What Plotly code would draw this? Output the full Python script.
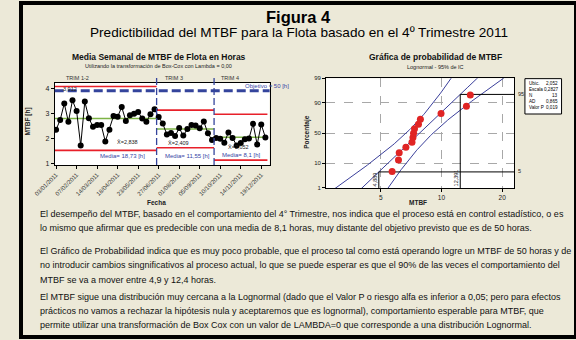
import math
import datetime as dt
from statistics import NormalDist
import plotly.graph_objects as go

W, H = 576, 340
FONT = "Liberation Sans, Arial, sans-serif"

# ---------------- data: weekly control chart (ln of weekly mean MTBF) ----------------
first_week = "2011-01-03"
ln_mtbf_trim12 = [2.354, 2.747, 3.402, 2.668, 3.532, 3.100, 1.726, 3.481, 2.813, 2.472,
                  2.539, 2.539, 1.883, 2.354, 2.904, 2.876, 3.257, 2.707, 2.931, 2.994,
                  3.061, 2.798, 2.668, 2.970, 3.171]
ln_mtbf_trim3 = [2.864, 2.601, 2.166, 2.221, 2.099, 2.421, 2.119, 2.382, 2.543, 2.519,
                 2.413, 2.680, 2.209, 1.942]
ln_mtbf_trim4 = [2.021, 1.993, 1.836, 2.248, 2.028, 1.726, 1.824, 1.970, 2.001, 2.590,
                 1.766, 2.566, 2.048]
stage_labels = ["TRIM 1-2", "TRIM 3", "TRIM 4"]
stage_center = [2.800, 2.382, 2.052]
stage_ucl = [4.081, 3.139, 2.970]
stage_lcl = [1.530, 1.636, 1.139]
stage_center_text = ["X̄=2,838", "X̄=2,409", "X̄=2,052"]
stage_mean_text = ["Media= 18,73 [h]", "Media= 11,55 [h]", "Media= 8,1 [h]"]
objective_hours = 50
objective_text = "Objetivo = 50 [h]"
objective_value_text = "3,912"
left_yticks = [1, 2, 3, 4]

# ---------------- data: lognormal probability plot (TRIM 4) ----------------
prob_mtbf_hours = [5.69, 6.12, 6.17, 6.66, 7.14, 7.22, 7.27, 7.35, 7.69, 7.86, 9.95, 13.3, 13.9]
lognorm_loc = 2.052
lognorm_scale = 0.2827
ad_stat = "0,865"
p_value = "0,019"
ref_percents = [5, 95]
prob_yticks = [1, 10, 50, 90, 99]
prob_xticks = [5, 10, 20]

body_lines = [
    "El desempeño del MTBF, basado en el comportamiento del 4° Trimestre, nos indica que el proceso está en control estadístico, o es",
    "lo mismo que afirmar que es predecible con una media de 8,1 horas, muy distante del objetivo previsto que es de 50 horas.",
    "El Gráfico de Probabilidad indica que es muy poco probable, que el proceso tal como está operando logre un MTBF de 50 horas y de",
    "no introducir cambios singnificativos al proceso actual, lo que se puede esperar es que el 90% de las veces el comportamiento del",
    "MTBF se va a mover entre 4,9 y 12,4 horas.",
    "El MTBF sigue una distribución muy cercana a la Lognormal (dado que el Valor P o riesgo alfa es inferior a 0,05; pero para efectos",
    "prácticos no vamos a rechazar la hipótesis nula y aceptaremos que es lognormal), comportamiento esperable para MTBF, que",
    "permite utilizar una transformación de Box Cox con un valor de LAMBDA=0 que corresponde a una distribución Lognormal.",
]
body_y = [215, 229.5, 252.5, 267, 281.5, 299, 313.5, 328]

# ---------------- colours ----------------
BG = "#ECE9D8"
NAVY = "#34449C"
RED = "#E8202A"
GREEN = "#7DB346"
BLUE_TXT = "#3545A5"
LINE_BLUE = "#3A3F9A"


def px_x(x):
    return x / W


def px_y(y):
    return 1 - y / H


def ann(text, x, y, size, color="#000", bold=False, xanchor="center",
        yanchor="middle", angle=0):
    return dict(text=("<b>%s</b>" % text if bold else text), x=px_x(x), y=px_y(y),
                xref="paper", yref="paper", showarrow=False,
                font=dict(size=size, color=color, family=FONT),
                xanchor=xanchor, yanchor=yanchor, textangle=angle)


fig = go.Figure()

# ---------------- left chart ----------------
start = dt.date.fromisoformat(first_week)
stages = [ln_mtbf_trim12, ln_mtbf_trim3, ln_mtbf_trim4]
all_vals = ln_mtbf_trim12 + ln_mtbf_trim3 + ln_mtbf_trim4
dates = [start + dt.timedelta(days=7 * i) for i in range(len(all_vals))]
half_week = dt.timedelta(days=3.5)

idx = 0
stage_bounds = []
for s, vals in enumerate(stages):
    d0 = dt.datetime.combine(dates[idx], dt.time()) - half_week
    d1 = dt.datetime.combine(dates[idx + len(vals) - 1], dt.time()) + half_week
    stage_bounds.append((d0, d1))
    idx += len(vals)
    for yv, col in ((stage_ucl[s], RED), (stage_lcl[s], RED), (stage_center[s], GREEN)):
        fig.add_trace(go.Scatter(x=[d0, d1], y=[yv, yv], mode="lines",
                                 line=dict(color=col, width=1.6),
                                 xaxis="x", yaxis="y", hoverinfo="skip"))

fig.add_trace(go.Scatter(x=dates, y=all_vals, mode="lines+markers",
                         line=dict(color="#000", width=1),
                         marker=dict(color="#000", size=6),
                         xaxis="x", yaxis="y"))

obj_ln = math.log(objective_hours)
fig.add_shape(type="line", xref="x domain", yref="y", x0=0, x1=1, y0=obj_ln, y1=obj_ln,
              line=dict(color=NAVY, width=3, dash="9px,4px"))
for s in range(1, len(stages)):
    xb = stage_bounds[s][0]
    fig.add_shape(type="line", xref="x", yref="paper", x0=xb, x1=xb,
                  y0=px_y(165), y1=px_y(74), line=dict(color=NAVY, width=1.3, dash="7px,3px"))

left_dom_x = [px_x(35), px_x(258)]
left_dom_y = [px_y(165), px_y(81)]
ax_min = dt.datetime.combine(dates[0], dt.time()) - dt.timedelta(days=2.3)
ax_max = dt.datetime.combine(dates[-1], dt.time()) + dt.timedelta(days=7.2)

tick_dates = dates[::5]
fig.update_layout(
    xaxis=dict(domain=left_dom_x, type="date", range=[ax_min, ax_max],
               tickmode="array", tickvals=tick_dates,
               ticktext=[d.strftime("%d/%m/%Y") for d in tick_dates],
               tickangle=-45, ticks="outside", ticklen=3, tickcolor="#000",
               tickfont=dict(size=6, color="#333", family=FONT),
               showline=True, linecolor="#000", linewidth=1, mirror=True,
               showgrid=False, zeroline=False, anchor="y"),
    yaxis=dict(domain=left_dom_y, range=[0.941, 4.238], tickvals=left_yticks,
               ticks="outside", ticklen=3, tickcolor="#000",
               tickfont=dict(size=7, color="#222", family=FONT),
               showline=True, linecolor="#000", linewidth=1, mirror=True,
               showgrid=False, zeroline=False, anchor="x"),
)

# ---------------- right chart ----------------
nd = NormalDist()
n = len(prob_mtbf_hours)
pts_sorted = sorted(prob_mtbf_hours)
ranks = [(i + 1 - 0.3) / (n + 0.4) for i in range(n)]
z_pts = [nd.inv_cdf(p) for p in ranks]

x_log_range = [0.428, 1.360]
z_lo, z_hi = nd.inv_cdf(0.01), nd.inv_cdf(0.99)
zz = [-3.0 + 0.05 * k for k in range(121)]
se = [lognorm_scale * math.sqrt(1 / n + z * z / (2 * n)) for z in zz]
fit = [math.exp(lognorm_loc + lognorm_scale * z) for z in zz]
lo = [math.exp(lognorm_loc + lognorm_scale * z - 1.96 * s) for z, s in zip(zz, se)]
hi = [math.exp(lognorm_loc + lognorm_scale * z + 1.96 * s) for z, s in zip(zz, se)]
for xs in (lo, fit, hi):
    fig.add_trace(go.Scatter(x=xs, y=zz, mode="lines", line=dict(color=LINE_BLUE, width=1),
                             xaxis="x2", yaxis="y2", hoverinfo="skip"))

x_right = 10 ** x_log_range[1]
ref_x = []
for p in ref_percents:
    zp = nd.inv_cdf(p / 100)
    xp = math.exp(lognorm_loc + lognorm_scale * zp)
    ref_x.append(xp)
    fig.add_trace(go.Scatter(x=[xp, xp, x_right], y=[z_lo, zp, zp], mode="lines",
                             line=dict(color="#000", width=1),
                             xaxis="x2", yaxis="y2", hoverinfo="skip"))

fig.add_trace(go.Scatter(x=pts_sorted, y=z_pts, mode="markers",
                         marker=dict(color="#E02424", size=7),
                         xaxis="x2", yaxis="y2"))

right_dom_x = [px_x(316.7), px_x(511.7)]
right_dom_y = [px_y(188.3), px_y(76.7)]
fig.update_layout(
    xaxis2=dict(domain=right_dom_x, type="log", range=x_log_range, tickvals=prob_xticks,
                ticktext=[str(v) for v in prob_xticks],
                ticks="outside", ticklen=3, tickcolor="#000",
                tickfont=dict(size=6.5, color="#222", family=FONT),
                showline=True, linecolor="#000", linewidth=1, mirror=True,
                showgrid=True, gridcolor="#A8A8A8", griddash="dash", gridwidth=1,
                zeroline=False, anchor="y2"),
    yaxis2=dict(domain=right_dom_y, range=[z_lo, z_hi],
                tickvals=[nd.inv_cdf(p / 100) for p in prob_yticks],
                ticktext=[str(p) for p in prob_yticks],
                ticks="outside", ticklen=3, tickcolor="#000",
                tickfont=dict(size=6, color="#222", family=FONT),
                showline=True, linecolor="#000", linewidth=1, mirror=True,
                showgrid=True, gridcolor="#A8A8A8", griddash="dash", gridwidth=1,
                zeroline=False, anchor="x2"),
)

# legend-like stats box
fig.add_shape(type="rect", xref="paper", yref="paper", x0=px_x(523), x1=px_x(561),
              y0=px_y(113), y1=px_y(77), line=dict(color="#000", width=1), fillcolor="#FFF")
stats_rows = [("Ubic.", ("%.3f" % lognorm_loc).replace(".", ",")),
              ("Escala", ("%.4f" % lognorm_scale).replace(".", ",")),
              ("N", str(n)), ("AD", ad_stat), ("Valor P", p_value)]

annotations = []
for k, (lab, val) in enumerate(stats_rows):
    yy = 81.5 + k * 6.2
    annotations.append(ann(lab, 525, yy, 4.6, xanchor="left"))
    annotations.append(ann(val, 559.5, yy, 4.6, xanchor="right"))

# ---------------- texts ----------------
annotations += [
    ann("Figura 4", 288, 14, 16.5, bold=True),
    ann("Predictibilidad del MTBF para la Flota basado en el 4º Trimestre 2011", 288, 30.5, 13.6),
    ann("Media Semanal de MTBF de Flota en Horas", 143, 55, 8.5, bold=True, color="#111"),
    ann("Utilizando la transformación de Box-Cox con Lambda = 0,00", 143, 64.5, 5.5, color="#222"),
    ann("Gráfica de probabilidad de MTBF", 430, 55, 8.5, bold=True, color="#111"),
    ann("Lognormal - 95% de IC", 430, 65, 5.5, color="#222"),
    ann("Fecha", 141, 203, 6.5, bold=True, color="#222"),
    ann("MTBF [h]", 7, 121, 6.5, bold=True, color="#222", angle=-90),
    ann("MTBF", 412, 203, 6.5, bold=True, color="#222"),
    ann("Porcentaje", 297, 131, 6.5, bold=True, color="#222", angle=-90),
    ann(objective_text, 230, 84, 6, color=BLUE_TXT, xanchor="left"),
    ann(objective_value_text, 41, 87.5, 5.5, color="#222", xanchor="left"),
    ann("95", 514, 92.7, 5.5, color="#222", xanchor="left"),
    ann("5", 514, 171, 5.5, color="#222", xanchor="left"),
    ann(("%.3f" % ref_x[0]).replace(".", ","), 367, 180, 5.5, color="#222", angle=-90),
    ann(("%.3f" % ref_x[1]).replace(".", ","), 451, 178, 5.5, color="#222", angle=-90),
]
stage_label_x = [45, 147, 206]
center_label_pos = [(98, 141.5), (151, 143), (213, 147)]
mean_label_pos = [(80, 155.5), (147, 155.5), (207, 155)]
for s in range(len(stages)):
    annotations.append(ann(stage_labels[s], stage_label_x[s], 76.5, 5.5, color="#333", xanchor="left"))
    annotations.append(ann(stage_center_text[s], center_label_pos[s][0], center_label_pos[s][1],
                           5.5, color="#222", xanchor="left"))
    annotations.append(ann(stage_mean_text[s], mean_label_pos[s][0], mean_label_pos[s][1],
                           6, color=BLUE_TXT, xanchor="left"))

for line, yy in zip(body_lines, body_y):
    annotations.append(ann(line, 18, yy, 9.0, color="#111", xanchor="left"))

# frame
fig.add_shape(type="rect", xref="paper", yref="paper", x0=0, x1=1, y0=0, y1=1,
              line=dict(color="#000", width=4), fillcolor="rgba(0,0,0,0)")

fig.update_layout(
    width=W, height=H, margin=dict(l=0, r=0, t=0, b=0),
    paper_bgcolor=BG, plot_bgcolor="#FFF", showlegend=False,
    annotations=annotations,
    font=dict(family=FONT),
)

fig.write_html("out.html")
